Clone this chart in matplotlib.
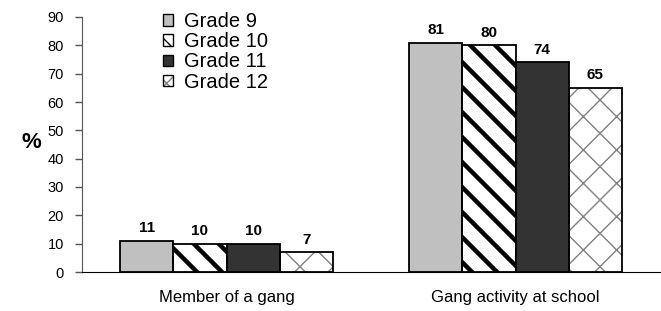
import matplotlib
matplotlib.use("Agg")
import matplotlib.pyplot as plt
from matplotlib.patches import Patch
from matplotlib.legend_handler import HandlerTuple
from matplotlib.backend_bases import GraphicsContextBase
import numpy as np

categories = ["Member of a gang", "Gang activity at school"]
grades = ["Grade 9", "Grade 10", "Grade 11", "Grade 12"]
grade9 = [11, 81]
grade10 = [10, 80]
grade11 = [10, 74]
grade12 = [7, 65]
series = [grade9, grade10, grade11, grade12]
yticks = [0, 10, 20, 30, 40, 50, 60, 70, 80, 90]

# slightly denser single-diagonal stripes than the default hatch density
_orig_hatch_path = GraphicsContextBase.get_hatch_path
def _hatch_path(self, density=6.0):
    if self.get_hatch() == '\\':
        density = 8.0
    return _orig_hatch_path(self, density)
GraphicsContextBase.get_hatch_path = _hatch_path

plt.rcParams['font.family'] = ['Liberation Sans', 'DejaVu Sans']

fig = plt.figure(figsize=(6.61, 3.11), dpi=100)
ax = fig.add_axes([82/661, 39/311, 578/661, 255/311])

x = np.arange(len(categories))
w = 0.184
offsets = (np.arange(4) - 1.5) * w

styles = [
    dict(facecolor='#c0c0c0', hatch=None, lhatch=None, hcolor=None, hlw=1.0),
    dict(facecolor='white', hatch='\\', lhatch='\\', hcolor='black', hlw=3.2),
    dict(facecolor='#333333', hatch=None, lhatch=None, hcolor=None, hlw=1.0),
    dict(facecolor='white', hatch='x', lhatch='xx', hcolor='#808080', hlw=1.0),
]

handles = []
for i, (vals, st) in enumerate(zip(series, styles)):
    if st['hatch']:
        with plt.rc_context({'hatch.linewidth': st['hlw']}):
            ax.bar(x + offsets[i], vals, w, facecolor=st['facecolor'],
                   edgecolor=st['hcolor'], hatch=st['hatch'], linewidth=0, zorder=2)
            hp = Patch(facecolor=st['facecolor'], edgecolor=st['hcolor'],
                       hatch=st['lhatch'], linewidth=0)
        bars = ax.bar(x + offsets[i], vals, w, facecolor='none',
                      edgecolor='black', linewidth=1.3, zorder=3)
        op = Patch(facecolor='none', edgecolor='black', linewidth=1.0)
        handles.append((hp, op))
    else:
        bars = ax.bar(x + offsets[i], vals, w, facecolor=st['facecolor'],
                      edgecolor='black', linewidth=1.3, zorder=3)
        handles.append(Patch(facecolor=st['facecolor'], edgecolor='black', linewidth=1.0))
    for b, v in zip(bars, vals):
        ax.annotate(str(v), (b.get_x() + b.get_width() / 2, v),
                    xytext=(0, 4), textcoords='offset points',
                    ha='center', va='bottom', fontsize=11, fontweight='bold')

ax.set_xlim(-0.5, 1.5)
ax.set_ylim(0, 90)
ax.set_yticks(yticks)
ax.set_xticks(x)
ax.set_xticklabels(categories, fontsize=12)
ax.tick_params(axis='x', length=0, pad=13)
ax.tick_params(axis='y', length=5, width=1, pad=8, labelsize=10.5, color='#555555')
for s in ['top', 'right']:
    ax.spines[s].set_visible(False)
ax.spines['left'].set_color('#555555')
ax.spines['bottom'].set_color('black')

fig.text(31/661, 1 - 142/311, '%', fontsize=16, fontweight='bold',
         ha='center', va='center')

leg = fig.legend(handles, grades, loc='upper left',
                 bbox_to_anchor=(163/661, 1 - 12/311), frameon=False,
                 fontsize=14.5, handlelength=0.5, handleheight=0.5,
                 handletextpad=0.55, labelspacing=0.06, borderpad=0,
                 borderaxespad=0,
                 handler_map={tuple: HandlerTuple(ndivide=1, pad=0)})

fig.savefig('out.png', dpi=100)
